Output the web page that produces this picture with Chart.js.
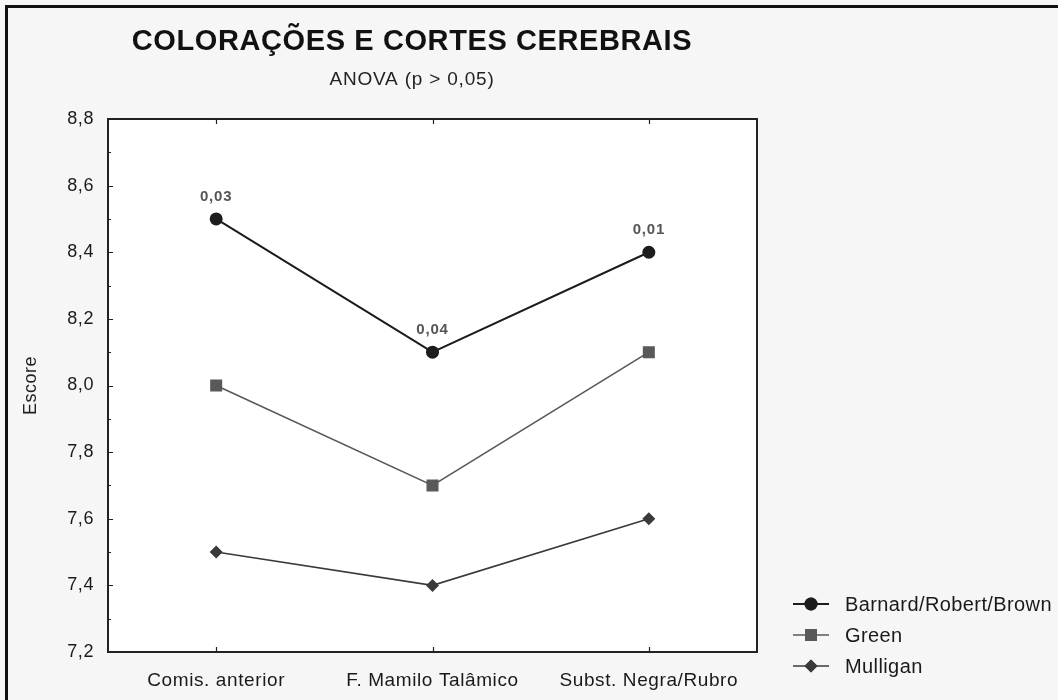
<!DOCTYPE html>
<html>
<head>
<meta charset="utf-8">
<script src="https://cdn.jsdelivr.net/npm/chart.js@4/dist/chart.umd.min.js"></script>
<style>
  html, body { margin: 0; padding: 0; background: #f6f6f6; }
  #wrap { width: 1058px; height: 700px; position: relative; }
  canvas { display: block; }
</style>
</head>
<body>
<div id="wrap"><canvas id="c" width="1058" height="700"></canvas></div>
<script>
// ---- data ----
const categories = ['Comis. anterior', 'F. Mamilo Talâmico', 'Subst. Negra/Rubro'];
const seriesNames = ['Barnard/Robert/Brown', 'Green', 'Mulligan'];
const barnard = [8.5, 8.1, 8.4];
const green = [8.0, 7.7, 8.1];
const mulligan = [7.5, 7.4, 7.6];
const pValueLabels = ['0,03', '0,04', '0,01'];
const titleText = 'COLORAÇÕES E CORTES CEREBRAIS';
const subtitleText = 'ANOVA (p > 0,05)';
const yAxisTitle = 'Escore';
const yMin = 7.2, yMax = 8.8, yStep = 0.2, yMinorStep = 0.1;

const FONT = '"Liberation Sans", Arial, Helvetica, sans-serif';

const styles = [
  { color: '#1c1c1c', width: 2, point: 'circle', radius: 6.5 },
  { color: '#595959', width: 1.6, point: 'rect', radius: 8.5 },
  { color: '#3a3a3a', width: 1.6, point: 'rectRot', radius: 6.5 }
];
const seriesData = [barnard, green, mulligan];

const decorPlugin = {
  id: 'decor',
  beforeDraw(chart) {
    const { ctx, chartArea: a, width, height } = chart;
    ctx.fillStyle = '#f6f6f6';
    ctx.fillRect(0, 0, width, height);
    ctx.fillStyle = '#ffffff';
    ctx.fillRect(a.left, a.top, a.right - a.left, a.bottom - a.top);
    // outer frame (top & left)
    ctx.fillStyle = '#111';
    ctx.fillRect(5, 5, width - 5, 3);
    ctx.fillRect(5, 5, 3, height - 5);
    // slightly wider tracking for all library-drawn text
    ctx.letterSpacing = '0.6px';
  },
  afterDraw(chart) {
    const { ctx, chartArea: a, scales } = chart;
    ctx.save();
    // plot frame
    ctx.strokeStyle = '#222';
    ctx.lineWidth = 2;
    ctx.strokeRect(a.left, a.top, a.right - a.left, a.bottom - a.top);
    // y ticks (inward)
    ctx.lineWidth = 1.2;
    ctx.beginPath();
    const nMinor = Math.round((yMax - yMin) / yMinorStep);
    for (let i = 1; i < nMinor; i++) {
      const v = yMin + i * yMinorStep;
      const y = Math.round(scales.y.getPixelForValue(v)) + 0.5;
      const len = (i % 2 === 0) ? 5 : 3;
      ctx.moveTo(a.left, y); ctx.lineTo(a.left + len, y);
    }
    // x ticks (inward, bottom and top)
    for (let i = 0; i < categories.length; i++) {
      const x = Math.round(scales.x.getPixelForValue(i)) + 0.5;
      ctx.moveTo(x, a.bottom); ctx.lineTo(x, a.bottom - 5);
      ctx.moveTo(x, a.top); ctx.lineTo(x, a.top + 5);
    }
    ctx.stroke();

    // title & subtitle
    const cx = 412;
    ctx.fillStyle = '#111';
    ctx.textAlign = 'center';
    ctx.textBaseline = 'middle';
    ctx.letterSpacing = '0.6px';
    ctx.font = 'bold 29px ' + FONT;
    ctx.fillText(titleText, cx, 42);
    ctx.letterSpacing = '0.8px';
    ctx.font = '19px ' + FONT;
    ctx.fillStyle = '#222';
    ctx.fillText(subtitleText, cx, 80);

    // y-axis title
    ctx.save();
    ctx.translate(31, (a.top + a.bottom) / 2);
    ctx.rotate(-Math.PI / 2);
    ctx.letterSpacing = '0.5px';
    ctx.font = '18px ' + FONT;
    ctx.fillStyle = '#222';
    ctx.fillText(yAxisTitle, 0, 0);
    ctx.restore();

    // p-value labels above first series points
    const meta = chart.getDatasetMeta(0);
    ctx.letterSpacing = '0.8px';
    ctx.font = 'bold 15px ' + FONT;
    ctx.fillStyle = '#555';
    meta.data.forEach((pt, i) => {
      ctx.fillText(pValueLabels[i], pt.x, pt.y - 22);
    });

    // legend (line + marker + text)
    const lx1 = 793, lx2 = 829, mx = 811, tx = 845;
    const rows = [604, 635, 666];
    ctx.letterSpacing = '0.4px';
    chart.data.datasets.forEach((ds, i) => {
      const y = rows[i];
      const st = styles[i];
      ctx.strokeStyle = st.color;
      ctx.lineWidth = st.width;
      ctx.beginPath();
      ctx.moveTo(lx1, y); ctx.lineTo(lx2, y);
      ctx.stroke();
      ctx.fillStyle = st.color;
      Chart.helpers.drawPoint(ctx, { pointStyle: st.point, radius: st.radius, rotation: 0, borderWidth: 0 }, mx, y);
      ctx.fill();
      ctx.fillStyle = '#1a1a1a';
      ctx.textAlign = 'left';
      ctx.font = '20px ' + FONT;
      ctx.fillText(ds.label, tx, y + 1);
    });
    ctx.restore();
  }
};

new Chart(document.getElementById('c'), {
  type: 'line',
  data: {
    labels: categories,
    datasets: seriesData.map((d, i) => ({
      label: seriesNames[i],
      data: d,
      borderColor: styles[i].color,
      backgroundColor: styles[i].color,
      borderWidth: styles[i].width,
      pointStyle: styles[i].point,
      pointRadius: styles[i].radius,
      pointHoverRadius: styles[i].radius,
      pointBorderWidth: 0,
      pointBackgroundColor: styles[i].color,
      tension: 0,
      fill: false
    }))
  },
  options: {
    responsive: false,
    animation: false,
    devicePixelRatio: 1,
    layout: { padding: { left: 0, top: 119, right: 301, bottom: 0 } },
    plugins: {
      legend: { display: false },
      title: { display: false },
      tooltip: { enabled: false }
    },
    scales: {
      x: {
        type: 'category',
        offset: true,
        grid: { display: false, drawTicks: false },
        border: { display: false },
        ticks: { color: '#1a1a1a', font: { family: FONT, size: 19 }, padding: 17 },
        afterFit(s) { s.height = 48; }
      },
      y: {
        min: yMin, max: yMax,
        grid: { display: false, drawTicks: false },
        border: { display: false },
        ticks: {
          stepSize: yStep,
          color: '#1a1a1a',
          font: { family: FONT, size: 18 },
          padding: 14,
          callback: v => v.toFixed(1).replace('.', ',')
        },
        afterFit(s) { s.width = 108; }
      }
    }
  },
  plugins: [decorPlugin]
});
</script>
</body>
</html>
